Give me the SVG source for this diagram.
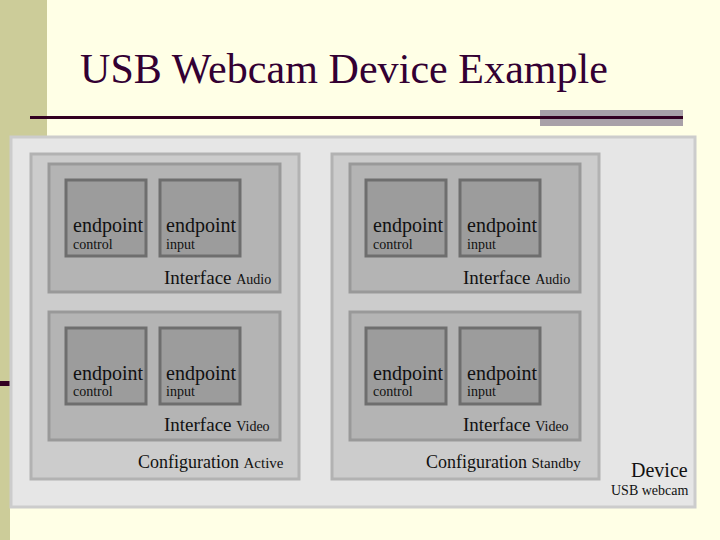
<svg xmlns="http://www.w3.org/2000/svg" width="720" height="540" viewBox="0 0 720 540">
<style>
text{font-family:"Liberation Serif","Times New Roman",serif;fill:#111}
.cfg{fill:#CCCCCC;stroke:#B2B2B2;stroke-width:3}
.ifc{fill:#B4B4B4;stroke:#999999;stroke-width:3}
.ep{fill:#9C9C9C;stroke:#6E6E6E;stroke-width:3}
.b{font-size:20px}.s{font-size:14px}.m{font-size:19px}
</style>
<rect width="720" height="540" fill="#FFFFE6"/>
<rect x="0" y="0" width="47" height="136" fill="#CCCC99"/>
<rect x="0" y="0" width="10" height="540" fill="#CCCC99"/>
<rect x="0" y="381" width="38" height="5" fill="#330022"/>
<rect x="540" y="110" width="143" height="16" fill="#A8A0A8"/>
<rect x="30" y="116" width="653" height="3" fill="#330022"/>
<text x="80" y="83" style="font-size:42px;fill:#330033" textLength="528">USB Webcam Device Example</text>
<g id="device">
<rect x="11" y="137" width="684" height="370" fill="#E6E6E6" stroke="#CCCCCC" stroke-width="3"/>
<text x="631" y="477" style="font-size:20px">Device</text>
<text x="611" y="495" style="font-size:14px">USB webcam</text>
</g>
<g id="config-active">
<rect class="cfg" x="31" y="154" width="268" height="325"/>
<text x="138" y="468" style="font-size:18px">Configuration <tspan style="font-size:15px">Active</tspan></text>
</g>
<g id="config-standby">
<rect class="cfg" x="332" y="154" width="267" height="325"/>
<text x="426" y="468" style="font-size:18px">Configuration <tspan style="font-size:15px">Standby</tspan></text>
</g>
<g id="if-audio-a"><rect class="ifc" x="49" y="164" width="231" height="128"/><text x="164" y="284" class="m">Interface <tspan class="s">Audio</tspan></text></g>
<g id="if-video-a"><rect class="ifc" x="49" y="312" width="231" height="128"/><text x="164" y="431" class="m">Interface <tspan class="s">Video</tspan></text></g>
<g id="if-audio-s"><rect class="ifc" x="350" y="164" width="230" height="128"/><text x="463" y="284" class="m">Interface <tspan class="s">Audio</tspan></text></g>
<g id="if-video-s"><rect class="ifc" x="350" y="312" width="230" height="128"/><text x="463" y="431" class="m">Interface <tspan class="s">Video</tspan></text></g>
<g id="ep1"><rect class="ep" x="66" y="180" width="80" height="76"/><text x="73" y="232" class="b">endpoint</text><text x="73" y="249" class="s">control</text></g>
<g id="ep2"><rect class="ep" x="160" y="180" width="80" height="76"/><text x="166" y="232" class="b">endpoint</text><text x="166" y="249" class="s">input</text></g>
<g id="ep3"><rect class="ep" x="66" y="328" width="80" height="76"/><text x="73" y="380" class="b">endpoint</text><text x="73" y="396" class="s">control</text></g>
<g id="ep4"><rect class="ep" x="160" y="328" width="80" height="76"/><text x="166" y="380" class="b">endpoint</text><text x="166" y="396" class="s">input</text></g>
<g id="ep5"><rect class="ep" x="366" y="180" width="80" height="76"/><text x="373" y="232" class="b">endpoint</text><text x="373" y="249" class="s">control</text></g>
<g id="ep6"><rect class="ep" x="460" y="180" width="80" height="76"/><text x="467" y="232" class="b">endpoint</text><text x="467" y="249" class="s">input</text></g>
<g id="ep7"><rect class="ep" x="366" y="328" width="80" height="76"/><text x="373" y="380" class="b">endpoint</text><text x="373" y="396" class="s">control</text></g>
<g id="ep8"><rect class="ep" x="460" y="328" width="80" height="76"/><text x="467" y="380" class="b">endpoint</text><text x="467" y="396" class="s">input</text></g>
<g id="connectors"/>
</svg>
